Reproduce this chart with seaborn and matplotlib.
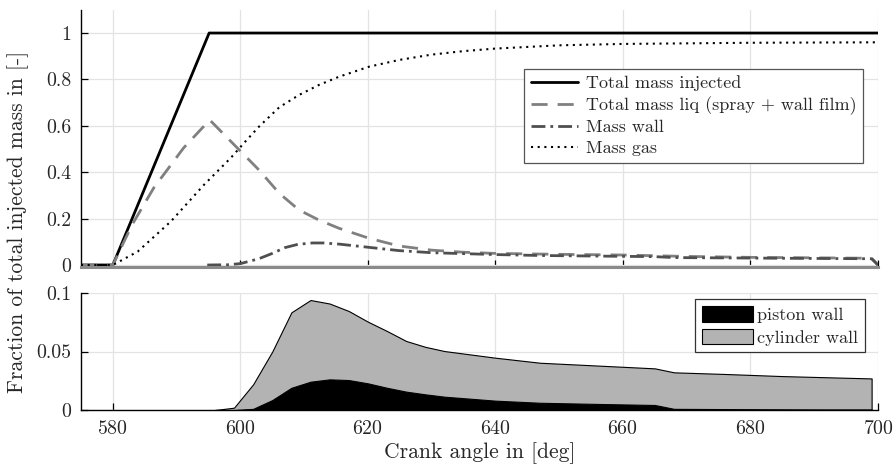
import matplotlib
matplotlib.use("Agg")
import matplotlib.pyplot as plt
import matplotlib.ticker as mticker
import seaborn as sns
import numpy as np

# ---------------- data ----------------
total_x = [575, 580, 595.1, 700]
total_y = [0, 0, 1.0, 1.0]

liq_x = [575, 580, 583, 586.4, 591.1, 594.3, 595.2, 599.5, 602.9, 606.1, 609.2,
         612.3, 615.5, 620.2, 624.9, 630, 635, 640, 650, 660, 670, 680, 690, 699, 700]
liq_y = [0, 0, 0.173, 0.332, 0.505, 0.599, 0.625, 0.505, 0.41, 0.309, 0.237,
         0.194, 0.158, 0.115, 0.082, 0.064, 0.055, 0.05, 0.046, 0.043, 0.037, 0.033, 0.031, 0.029, 0.0]

wall_x = [594.8, 598, 600, 602.9, 605, 607, 609, 611.3, 613, 615.5, 620.2, 624.9,
          630, 640, 647, 665, 668, 685, 699, 700]
wall_y = [0, 0.001, 0.006, 0.027, 0.05, 0.075, 0.089, 0.095, 0.095, 0.09, 0.076, 0.062,
          0.053, 0.045, 0.041, 0.036, 0.032, 0.029, 0.027, 0.0]

gas_x = [575, 580, 583.9, 589.1, 594.3, 598.5, 600.6, 602.9, 606.1, 609.2, 612.3, 615.5,
         620.2, 624.9, 630, 635, 640, 650, 660, 680, 700]
gas_y = [0, 0, 0.058, 0.188, 0.346, 0.462, 0.527, 0.596, 0.68, 0.733, 0.776, 0.812,
         0.855, 0.884, 0.907, 0.922, 0.933, 0.947, 0.953, 0.958, 0.96]

film_x = [596, 599, 602, 605, 608, 611, 614, 617, 620, 623, 626, 629, 632,
          640, 647, 656, 665, 668, 676, 685, 692, 699]
piston = [0, 0, 0.001, 0.0085, 0.019, 0.0242, 0.0262, 0.0256, 0.0228, 0.019, 0.0157, 0.0134, 0.0114,
          0.008, 0.0062, 0.0052, 0.0043, 0.001, 0.0008, 0.0006, 0.0005, 0.0005]
cylinder = [0, 0.002, 0.021, 0.0415, 0.0645, 0.0698, 0.0648, 0.059, 0.0527, 0.0485, 0.0433, 0.0406, 0.039,
            0.0367, 0.0342, 0.0328, 0.0313, 0.0312, 0.03, 0.0284, 0.0275, 0.0265]

top_labels = ["Total mass injected", "Total mass liq (spray + wall film)", "Mass wall", "Mass gas"]
bottom_labels = ["piston wall", "cylinder wall"]
x_ticks = [580, 600, 620, 640, 660, 680, 700]
top_yticks = [0, 0.2, 0.4, 0.6, 0.8, 1]
bottom_yticks = [0, 0.05, 0.1]

# ---------------- style ----------------
sns.set_style("white")
plt.rcParams["font.family"] = ["cmr10", "DejaVu Serif"]
plt.rcParams["mathtext.fontset"] = "cm"
plt.rcParams["axes.formatter.use_mathtext"] = True
plt.rcParams["axes.unicode_minus"] = False

fig = plt.figure(figsize=(8.96, 4.68), dpi=100)
ax1 = fig.add_axes([0.0904, 0.4288, 0.8895, 0.5502])
ax2 = fig.add_axes([0.0904, 0.1239, 0.8895, 0.2500])

grid_kw = dict(color="#e3e3e3", linewidth=0.9)

# ---------------- top panel ----------------
specs = [
    (total_x, total_y, "black", 2.0, "-"),
    (liq_x, liq_y, "#808080", 2.0, (0, (5.8, 3.6))),
    (wall_x, wall_y, "#4f4f4f", 2.0, (0, (5.0, 1.8, 1.0, 1.8))),
    (gas_x, gas_y, "black", 1.5, (0, (1.0, 2.2))),
]
for (xs, ys, col, lw, ls), lab in zip(specs, top_labels):
    sns.lineplot(x=xs, y=ys, ax=ax1, color=col, linewidth=lw, label=lab,
                 estimator=None, sort=False)
    ax1.lines[-1].set_linestyle(ls)

ax1.set_xlim(575, 700)
ax1.set_ylim(-0.01, 1.1)
ax1.set_xticks(x_ticks)
ax1.set_yticks(top_yticks)
ax1.yaxis.set_major_formatter(mticker.FuncFormatter(lambda v, p: "%g" % v))
ax1.tick_params(axis="x", labelbottom=False)
ax1.grid(True, **grid_kw)
ax1.set_axisbelow(True)
for s in ["top", "right"]:
    ax1.spines[s].set_visible(False)
ax1.spines["left"].set_color("black")
ax1.spines["left"].set_linewidth(1.0)
ax1.spines["bottom"].set_color("#8a8a8a")
ax1.spines["bottom"].set_linewidth(2.2)
leg1 = ax1.legend(loc="upper right", bbox_to_anchor=(0.981, 0.77), fontsize=13,
                  frameon=True, fancybox=False, framealpha=1, edgecolor="#555555",
                  handlelength=2.6, handletextpad=0.45, borderpad=0.36, labelspacing=0.27,
                  borderaxespad=0)
leg1.get_frame().set_linewidth(0.9)

# ---------------- bottom panel ----------------
ax2.stackplot(film_x, piston, cylinder, colors=["black", "#b3b3b3"],
              edgecolor="black", linewidth=0.8, labels=bottom_labels)
ax2.set_xlim(575, 700)
ax2.set_ylim(0, 0.1)
ax2.set_xticks(x_ticks)
ax2.set_yticks(bottom_yticks)
ax2.yaxis.set_major_formatter(mticker.FuncFormatter(lambda v, p: "%g" % v))
ax2.grid(True, **grid_kw)
ax2.set_axisbelow(True)
for s in ["top", "right"]:
    ax2.spines[s].set_visible(False)
for s in ["left", "bottom"]:
    ax2.spines[s].set_color("black")
    ax2.spines[s].set_linewidth(1.0)
leg2 = ax2.legend(loc="upper right", bbox_to_anchor=(0.984, 0.946), fontsize=13,
                  frameon=True, fancybox=False, framealpha=1, edgecolor="#333333",
                  handlelength=2.8, handleheight=0.95, handletextpad=0.25, borderpad=0.38,
                  labelspacing=0.3, borderaxespad=0)
leg2.get_frame().set_linewidth(0.9)

for ax in (ax1, ax2):
    ax.tick_params(direction="in", length=5, width=0.9, labelsize=14.3, color="black",
                   left=True, bottom=True, pad=7)

ax2.set_xlabel("Crank angle in [deg]", fontsize=15.5, labelpad=3)
fig.text(0.02, 0.526, "Fraction of total injected mass in [-]", rotation=90,
         ha="center", va="center", fontsize=15.5)

fig.savefig("out.png", dpi=100)
